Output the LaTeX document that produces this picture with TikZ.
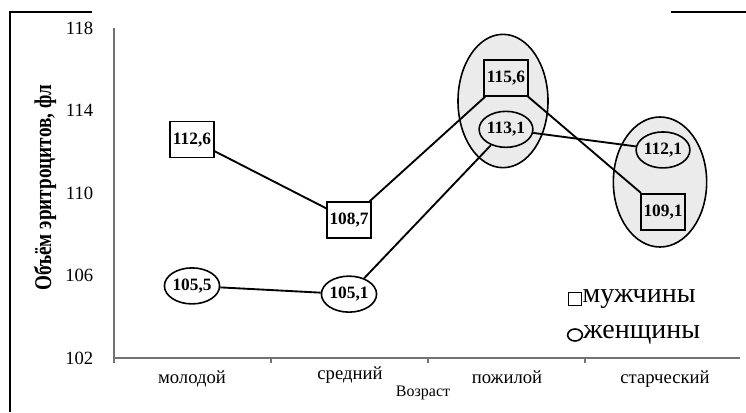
\documentclass[tikz,border=0pt]{standalone}
\usepackage{fontspec}
\setmainfont{Liberation Serif}
\newfontfamily\szuk{Liberation Serif}[FakeStretch=0.8]
\usetikzlibrary{shapes.geometric}
\tikzset{
  muzh/.style={draw,line width=1.2pt,fill=white,minimum width=33pt,minimum height=27pt,
    inner sep=0pt,font=\fontsize{13}{15}\selectfont\bfseries},
  zhen/.style={ellipse,draw,line width=1.2pt,fill=white,minimum width=34pt,minimum height=27pt,
    inner sep=0pt,font=\fontsize{13}{15}\selectfont\bfseries},
  grupa/.style={draw,line width=1.2pt,fill=black!8},
  vonal/.style={line width=1.4pt},
  os/.style={draw,black!55,line width=0.8pt},
  keret/.style={line width=1.5pt},
  kat/.style={font=\fontsize{14}{16}\selectfont,anchor=base},
  jel/.style={font=\fontsize{21}{24}\selectfont,anchor=west,inner sep=0pt},
}
% value -> vertical position
\newcommand{\ert}[1]{54+(#1-102)*20.6}

\begin{document}
\begin{tikzpicture}[x=0.75pt,y=0.75pt]
  \useasboundingbox (0,0) rectangle (746,412);
  % frame pieces
  \draw[keret] (10,0) -- (10,400) -- (92,400);
  \draw[keret] (671,400) -- (746,400);
  % axes
  \draw[os] (114,{\ert{118}}) -- (114,54) -- (740,54);
  \foreach \t in {114,271,428,585} {
    \draw[os] (\t,54) -- (\t,49);
  }
  \foreach \v in {102,106,110,114,118} {
    \node[anchor=east,font=\fontsize{14}{16}\selectfont] (t\v) at (98,{\ert{\v}}) {\v};
  }
  \node[rotate=90,font=\fontsize{18}{20}\szuk\bfseries] (ycim) at (45,224)
    {Объём эритроцитов, фл};
  \node[kat] (k1) at (192,29) {молодой};
  \node[kat] (k2) at (350,33) {средний};
  \node[kat] (k3) at (507,29) {пожилой};
  \node[kat] (k4) at (665,29) {старческий};
  \node[font=\fontsize{12}{14}\selectfont] (xcim) at (423,19) {Возраст};
  % grey groups
  \draw[grupa] (503,311) ellipse [x radius=33.75pt,y radius=50pt];
  \draw[grupa] (660,230) ellipse [x radius=35pt,y radius=48.75pt];
  % points
  \node[muzh] (m1) at (192,{\ert{112.6}}) {112,6};
  \node[muzh] (m2) at (349,{\ert{108.7}}) {108,7};
  \node[muzh,fill=black!8] (m3) at (506,{\ert{115.6}}) {115,6};
  \node[muzh,fill=black!8] (m4) at (663,{\ert{109.1}}) {109,1};
  \node[zhen] (w1) at (192,{\ert{105.5}}) {105,5};
  \node[zhen] (w2) at (349,{\ert{105.1}}) {105,1};
  \node[zhen,fill=black!8] (w3) at (506,{\ert{113.1}}) {113,1};
  \node[zhen,fill=black!8] (w4) at (663,{\ert{112.1}}) {112,1};
  \draw[vonal] (m1) -- (m2) -- (m3) -- (m4);
  \draw[vonal] (w1) -- (w2) -- (w3) -- (w4);
  % legend
  \node[draw,line width=1.2pt,minimum size=10pt,inner sep=0pt] (lm) at (575,113) {};
  \node[jel] (lmt) at (lm.east) {мужчины};
  \node[ellipse,draw,line width=1.2pt,minimum width=11pt,minimum height=9pt,inner sep=0pt]
    (lz) at (575,77) {};
  \node[jel] (lzt) at (lz.east) {женщины};
\end{tikzpicture}
\end{document}
